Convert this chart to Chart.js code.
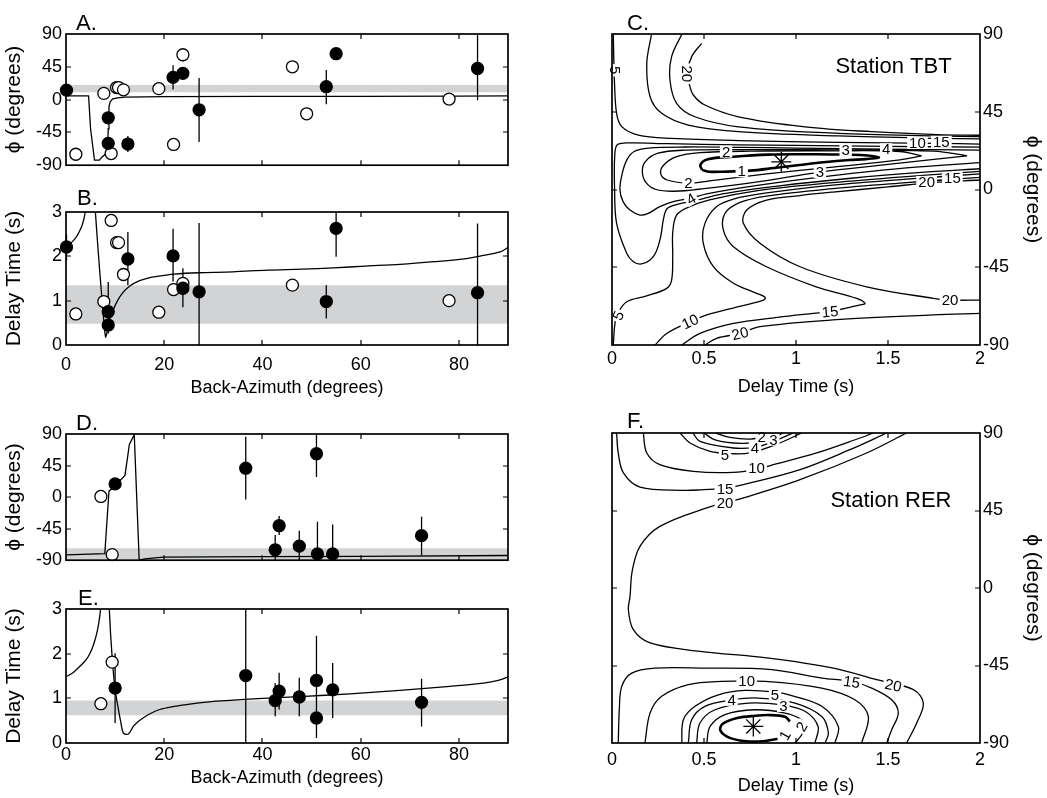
<!DOCTYPE html>
<html><head><meta charset="utf-8">
<script src="https://cdn.jsdelivr.net/npm/chart.js@4.4.1/dist/chart.umd.min.js"></script>
<style>
html,body{margin:0;padding:0;background:#fff;}
body{width:1047px;height:798px;position:relative;overflow:hidden;}
canvas{position:absolute;}
</style></head><body>
<canvas id="cA" width="520" height="180" style="left:0;top:0;width:520px;height:180px"></canvas>
<canvas id="cB" width="520" height="220" style="left:0;top:180px;width:520px;height:220px"></canvas>
<canvas id="cC" width="527" height="400" style="left:520px;top:0;width:527px;height:400px"></canvas>
<canvas id="cD" width="520" height="175" style="left:0;top:400px;width:520px;height:175px"></canvas>
<canvas id="cE" width="520" height="223" style="left:0;top:575px;width:520px;height:223px"></canvas>
<canvas id="cF" width="527" height="398" style="left:520px;top:400px;width:527px;height:398px"></canvas>
<script>
// ---------------- tick values ----------------
const azTicks = [0, 20, 40, 60, 80];
const phiTicks = [-90, -45, 0, 45, 90];
const delayTicks = [0, 1, 2, 3];
const dtTicks = [0, 0.5, 1, 1.5, 2];

// ---------------- Panel A (TBT, phi vs back-azimuth) ----------------
const aFilledAz = [0.1, 8.6, 8.6, 12.6, 21.8, 23.8, 27.1, 53.0, 55.0, 83.8];
const aFilledPhi = [13, -25, -60, -61, 30.5, 36, -14, 17.7, 63, 42.7];
const aFilledLo = [null, null, -68, -72, 14, 31, -58, -6.3, 58, -1];
const aFilledHi = [null, null, -52, -50, 47, 41, 29.6, 40.5, 68, 90];
const aOpenAz = [2.0, 7.7, 9.2, 10.3, 10.7, 11.7, 18.9, 21.9, 23.8, 46.1, 49.0, 78.0];
const aOpenPhi = [-75, 8.5, -74, 16.5, 16.5, 13.4, 15, -61.5, 61.5, 45, -19.5, 0.7];
const aBand = [10, 20];
const aCurveAz = [0, 4.6, 5.0, 5.8, 6.8, 7.3, 8.0, 8.45, 8.6, 8.75, 9.0, 9.5, 10.5, 12, 20, 40, 60, 80, 90];
const aCurvePhi = [5, 5, -40, -83, -83, -79, -75, -68, -40, -10, -3, 1, 2.5, 3.5, 4, 4.3, 4.5, 4.7, 5];

// ---------------- Panel B (TBT, delay vs back-azimuth) ----------------
const bFilledAz = [0.1, 8.6, 8.6, 12.6, 21.8, 23.8, 27.1, 53.0, 55.0, 83.8];
const bFilledDelay = [2.21, 0.75, 0.45, 1.94, 2.01, 1.28, 1.2, 0.98, 2.63, 1.18];
const bFilledLo = [1.9, 0.26, null, 1.35, 1.43, 0.85, 0, 0.6, 1.99, 0];
const bFilledHi = [2.5, 1.42, null, 2.55, 2.62, 1.73, 2.75, 1.35, 3.0, 2.74];
const bOpenAz = [2.0, 7.7, 9.2, 10.3, 10.7, 11.7, 18.9, 21.9, 23.8, 46.1, 78.0];
const bOpenDelay = [0.70, 0.98, 2.81, 2.31, 2.31, 1.59, 0.74, 1.25, 1.39, 1.35, 1.0];
const bBand = [0.48, 1.35];
const bCurve1Az = [0, 1, 2, 3, 3.6, 4.0];
const bCurve1Delay = [2.2, 2.3, 2.42, 2.62, 2.82, 3.05];
const bCurve2Az = [5.95, 6.5, 7.2, 7.9, 8.1, 8.4, 8.8, 9.6, 10.5, 11.5, 13, 15, 17.1, 20, 22, 27, 34, 41, 48, 54.5, 61, 68, 75, 81.6, 85, 88.4, 90];
const bCurve2Delay = [3.05, 2.2, 1.2, 0.3, 0.18, 0.32, 0.55, 0.79, 1.0, 1.17, 1.33, 1.45, 1.52, 1.57, 1.6, 1.63, 1.65, 1.69, 1.71, 1.74, 1.78, 1.82, 1.88, 1.95, 2.02, 2.1, 2.2];

// ---------------- Panel D (RER, phi vs back-azimuth) ----------------
const dFilledAz = [10.0, 36.6, 51.0, 43.4, 42.6, 47.5, 51.2, 54.3, 72.4];
const dFilledPhi = [18.8, 41.2, 61.8, -40.8, -75.2, -69.9, -81, -81, -55];
const dFilledLo = [null, -3.6, 28.7, -54, -90, -90, -90, -90, -83];
const dFilledHi = [null, 86, 90, -27, -54, -48, -35, -39, -28];
const dOpenAz = [7.1, 9.4];
const dOpenPhi = [0.9, -82];
const dBand = [-90, -73];
const dCurveAz = [0, 7.9, 8.75, 9.5, 10.5, 11.2, 12.0, 12.5, 12.9, 13.9, 14.9, 16, 19.8, 40, 60, 90];
const dCurvePhi = [-82.4, -80.6, 8.5, 13, 20, 25, 31, 55, 75, 89, -90, -88, -85.5, -85, -84.5, -83.3];

// ---------------- Panel E (RER, delay vs back-azimuth) ----------------
const eFilledAz = [10.0, 36.6, 42.6, 43.4, 47.5, 51.0, 51.0, 54.3, 72.4];
const eFilledDelay = [1.23, 1.51, 0.95, 1.16, 1.03, 1.40, 0.56, 1.19, 0.91];
const eFilledLo = [0.45, 0, 0.6, 0.75, 0.6, 0.8, 0.11, 0.56, 0.37];
const eFilledHi = [2.01, 3, 1.34, 1.57, 1.46, 2.4, 1.0, 1.79, 1.44];
const eOpenAz = [7.1, 9.4];
const eOpenDelay = [0.88, 1.81];
const eBand = [0.62, 0.95];
const eCurve1Az = [0, 1.5, 2.85, 4, 4.9, 5.6, 6.25, 6.7, 7.1];
const eCurve1Delay = [1.48, 1.58, 1.72, 1.85, 2.01, 2.2, 2.45, 2.7, 3.05];
const eCurve2Az = [8.8, 9.1, 9.6, 10.0, 10.5, 11.1, 11.7, 12.7, 13.7, 14.6, 15.7, 17.2, 19.1, 21.5, 24.6, 30, 38.2, 47.7, 57.8, 68, 78.2, 85, 88, 90];
const eCurve2Delay = [3.05, 2.4, 1.64, 1.2, 0.86, 0.5, 0.22, 0.2, 0.37, 0.47, 0.56, 0.66, 0.75, 0.81, 0.86, 0.93, 0.99, 1.04, 1.1, 1.18, 1.27, 1.34, 1.4, 1.48];

// ---------------- Panel C contours (Station TBT) [delay s, phi deg] ----------------
const tbtC1 = [[0.49,11.3],[0.48,14.2],[0.52,17.5],[0.66,19.0],[0.85,20.2],[1.02,20.4],[1.2,20.3],[1.35,20.0],[1.45,18.6],[1.38,17.6],[1.29,17.1],[1.15,15.8],[1.02,14.2],[0.88,12.4],[0.75,10.9],[0.6,10.3],[0.53,10.3],[0.49,11.3]];
const tbtC2 = [[1.683,19.4],[1.565,22.0],[1.203,22.4],[0.75,22.2],[0.478,21.3],[0.351,19.0],[0.28,14],[0.265,9],[0.3,5.5],[0.42,3.6],[0.53,5.0],[0.84,9.0],[1.2,13.0],[1.565,17.1],[1.683,19.4]];
const tbtC3 = [[1.93,19.5],[1.75,22.2],[1.27,22.9],[0.69,23.1],[0.4,22.8],[0.25,21],[0.18,16],[0.165,10],[0.185,4],[0.24,0],[0.34,-1],[0.5,0.5],[0.8,4.5],[1.13,10.1],[1.5,14.5],[1.8,18],[1.93,19.5]];
const tbtC4 = [[2.0,22.8],[1.49,23.3],[1.0,24.0],[0.69,24.4],[0.4,24.6],[0.2,24],[0.12,22],[0.08,17],[0.055,9],[0.043,0],[0.06,-7],[0.098,-11.9],[0.152,-14.8],[0.197,-13.8],[0.26,-9.9],[0.333,-7],[0.43,-5],[0.515,-2.5],[0.8,2.5],[1.2,8],[1.6,12.5],[2.0,15.5]];
const tbtC5a = [[2.0,24.5],[1.5,25],[1.0,25.5],[0.69,25.8],[0.3,26.5],[0.1,27],[0.03,26],[0.015,20],[0.014,0],[0.025,-19.6],[0.08,-36.9],[0.116,-41.8],[0.16,-43.1],[0.207,-40.8],[0.24,-36],[0.265,-27],[0.28,-17],[0.3,-11],[0.36,-8.5],[0.45,-6.5],[0.6,-2.5],[0.9,2],[1.3,6.5],[1.7,10],[2.0,12]];
const tbtC5b = [[0.007,-90],[0.016,-77.5],[0.03,-72],[0.08,-65],[0.188,-61.6],[0.297,-57.2],[0.324,-52.4],[0.33,-39],[0.33,-25],[0.35,-15],[0.41,-10.5],[0.53,-6],[0.8,-0.5],[1.2,4],[1.6,7.5],[2.0,10.5]];
const tbtC5top = [[0.007,90],[0.01,75],[0.013,63],[0.025,44],[0.053,36.4],[0.143,31.5],[0.324,29.6],[0.687,28.3],[1.23,27.3],[1.77,26.7],[2.0,26.3]];
const tbtC10top = [[0.215,90],[0.189,73],[0.207,53.7],[0.27,44.1],[0.415,37.3],[0.687,33.5],[1.23,31],[1.77,29.6],[2.0,29.3]];
const tbtC15top = [[0.38,90],[0.324,76.9],[0.315,63.4],[0.351,49.9],[0.451,42.1],[0.687,36.3],[1.23,32.5],[1.77,31],[2.0,30.6]];
const tbtC20top = [[0.487,84.6],[0.433,76.9],[0.41,68],[0.42,61],[0.442,54.7],[0.505,48.9],[0.687,42.1],[1.049,36.3],[1.41,33.5],[1.77,31.8],[2.0,31.4]];
const tbtC10U = [[0.234,-90],[0.297,-83.3],[0.424,-76.5],[0.515,-72.6],[0.7,-67.5],[0.823,-64],[0.832,-62.4],[0.786,-60.1],[0.66,-54.3],[0.551,-44.7],[0.496,-31.1],[0.505,-19.6],[0.569,-9.9],[0.66,-5.5],[0.84,-2],[1.2,2.5],[1.6,6],[2.0,9]];
const tbtC15U = [[0.379,-90],[0.478,-83.3],[0.66,-77.5],[0.9,-74],[1.094,-71.7],[1.185,-70.7],[1.348,-66.8],[1.375,-65.9],[1.33,-63],[1.11,-56.3],[0.84,-44.7],[0.66,-33.1],[0.605,-23.4],[0.614,-13.8],[0.696,-7.5],[0.84,-3.8],[1.2,0.5],[1.6,4],[1.8,5.5],[2.0,7]];
const tbtC20U = [[2.0,-64],[1.837,-64],[1.746,-63],[1.384,-56.3],[1.022,-44.7],[0.804,-31.1],[0.714,-19.6],[0.732,-11.9],[0.84,-6.1],[1.022,-3.5],[1.2,-1.5],[1.5,1.5],[1.74,4],[2.0,5.5]];
const tbtC20B = [[0.505,-90],[0.569,-86.1],[0.696,-83.3],[0.804,-79.4],[1.2,-75.5],[1.746,-72.6],[2.0,-71.7]];
const tbtBest = [[0.92, 16]];
const tbtLabelText = ['5','20','2','3','4','10','15','1','3','2','20','15','4','5','10','15','20','20'];
const tbtLabelDelay = [0.016, 0.41, 0.62, 1.27, 1.49, 1.66, 1.79, 0.705, 1.13, 0.415, 1.71, 1.85, 0.43, 0.033, 0.424, 1.185, 0.696, 1.837];
const tbtLabelPhi = [69, 67, 21.9, 22.8, 23.3, 26.9, 27.6, 10.6, 10.1, 3.6, 4.4, 6.6, -5.5, -73, -76.5, -70.7, -83.3, -64];
const tbtLabelRot = [90, 90, 0, 0, 0, 0, 0, 0, 0, 0, 0, 0, -30, -65, -25, -5, -15, 0];

// ---------------- Panel F contours (Station RER) ----------------
const rerC20 = [[1.601,90],[1.384,78.4],[1.022,62.9],[0.714,52.3],[0.515,46.5],[0.26,35.8],[0.152,24.2],[0.11,10],[0.098,-4.9],[0.089,-12.6],[0.116,-24.2],[0.207,-31.9],[0.478,-36.8],[0.841,-40.6],[1.203,-46.5],[1.438,-53.2],[1.638,-59],[1.692,-66.8],[1.656,-78.4],[1.601,-90]];
const rerC15top = [[0.025,90],[0.034,78.4],[0.062,66.8],[0.152,58.6],[0.388,56.7],[0.496,57.1],[0.614,57.8],[0.714,60],[1.022,68.7],[1.293,80.3],[1.493,90]];
const rerC10top = [[0.17,90],[0.189,78.4],[0.26,71.6],[0.442,67.7],[0.659,67.1],[0.786,69],[0.877,71.6],[1.112,78.4],[1.348,87.1],[1.42,90]];
const rerC5top = [[0.37,90],[0.424,84.2],[0.533,79.3],[0.65,78],[0.75,78.4],[0.913,84.2],[1.03,90]];
const rerC4top = [[0.44,90],[0.478,85.1],[0.659,81.3],[0.78,81.8],[0.877,85.1],[0.985,90]];
const rerC3top = [[0.5,90],[0.56,86],[0.7,84],[0.84,85.5],[0.93,90]];
const rerC2top = [[0.56,90],[0.64,87.5],[0.75,86.5],[0.84,88],[0.88,90]];
const rerC15bot = [[0.034,-90],[0.04,-70],[0.053,-57.1],[0.107,-49.4],[0.234,-46.5],[0.505,-46.5],[0.868,-47.4],[1.14,-52.3],[1.303,-54.2],[1.411,-58.1],[1.52,-64.9],[1.556,-72.6],[1.52,-82.3],[1.493,-90]];
const rerC10bot = [[0.179,-90],[0.207,-72.6],[0.27,-62.9],[0.415,-56.1],[0.596,-54.2],[0.832,-54.2],[1.14,-58.1],[1.32,-64.9],[1.393,-74.6],[1.357,-90]];
const rerC5bot = [[0.379,-90],[0.388,-76.5],[0.451,-68.7],[0.578,-62],[0.723,-59.5],[0.886,-60.5],[0.977,-62.5],[1.14,-68.7],[1.23,-80.4],[1.212,-90]];
const rerC4bot = [[0.415,-90],[0.433,-76.5],[0.505,-68.7],[0.65,-65],[0.795,-63.9],[0.995,-66.8],[1.14,-74.6],[1.176,-84.2],[1.158,-90]];
const rerC3bot = [[0.46,-90],[0.478,-78.4],[0.56,-70.7],[0.741,-66.8],[0.931,-68],[1.049,-71.6],[1.12,-80.4],[1.103,-90]];
const rerC2bot = [[0.515,-90],[0.533,-80.4],[0.614,-73.5],[0.777,-70.7],[0.94,-72.6],[1.031,-76.5],[1.045,-81],[1.031,-85.2],[0.995,-90]];
const rerC1 = [[0.967,-77.5],[0.94,-74.8],[0.86,-73.8],[0.777,-74.2],[0.68,-75.5],[0.6,-79],[0.59,-83],[0.64,-87],[0.73,-89],[0.82,-89],[0.9,-87.5]];
const rerBest = [[0.768, -80.4]];
const rerLabelText = ['2','3','4','5','10','15','20','10','15','20','5','4','3','2','1'];
const rerLabelDelay = [0.813, 0.877, 0.777, 0.614, 0.786, 0.614, 0.614, 0.732, 1.303, 1.529, 0.886, 0.65, 0.931, 1.031, 0.94];
const rerLabelPhi = [87.7, 86.1, 81.3, 77.4, 69.7, 57.5, 49.4, -54.2, -54.5, -56.5, -61.8, -64.9, -68.5, -80.4, -85.5];
const rerLabelRot = [0, 0, 0, 0, 0, 0, 0, 0, 8, 12, 0, 0, 0, -60, -60];

// ---------------- helpers ----------------
const FONT = "'Liberation Sans', Arial, Helvetica, sans-serif";
Chart.defaults.font.family = FONT;
Chart.defaults.color = '#000';

function pts(xs, ys) { return xs.map((x, i) => ({x: x, y: ys[i]})); }
function pairs(arr) { return arr.map(p => ({x: p[0], y: p[1]})); }
function errSegs(xs, lo, hi) {
  const d = [];
  xs.forEach((x, i) => { if (lo[i] == null) return; d.push({x: x, y: lo[i]}, {x: x, y: hi[i]}, {x: x, y: null}); });
  return d;
}
function lineDS(data, extra) {
  return Object.assign({type: 'line', data: data, borderColor: '#000', borderWidth: 1.3, pointRadius: 0,
    fill: false, tension: 0, spanGaps: false, order: 2}, extra || {});
}
function bandDS(lo, hi) {
  return [
    {type: 'line', data: [{x: 0, y: lo}, {x: 90, y: lo}], borderColor: 'rgba(0,0,0,0)', borderWidth: 1, pointRadius: 0, fill: false, order: 10},
    {type: 'line', data: [{x: 0, y: hi}, {x: 90, y: hi}], borderColor: 'rgba(0,0,0,0)', borderWidth: 1, pointRadius: 0, fill: '-1', backgroundColor: '#d2d3d5', order: 10}
  ];
}
function markerDS(xs, ys, filled) {
  return {type: 'line', data: pts(xs, ys), showLine: false, pointRadius: 6, pointStyle: 'circle',
    pointBackgroundColor: filled ? '#000' : '#fff', pointBorderColor: '#000', pointBorderWidth: 1.3,
    clip: false, order: filled ? 0 : 1};
}
function contourDS(arr, thick) {
  return lineDS(pairs(arr), {tension: 0.35, borderWidth: thick ? 2.6 : 1.3});
}
function starDS(arr) {
  return {type: 'line', data: pairs(arr), showLine: false, pointStyle: 'star', pointRadius: 10,
    pointBorderColor: '#000', pointBorderWidth: 1.3, order: 0, clip: false};
}

const decor = {
  id: 'decor',
  afterDatasetsDraw(chart, args, o) {
    if (!o || !o.labels) return;
    const {ctx, scales: {x, y}} = chart;
    ctx.save();
    ctx.font = '15px ' + FONT;
    ctx.textAlign = 'center';
    ctx.textBaseline = 'middle';
    o.labels.text.forEach((t, i) => {
      const px = x.getPixelForValue(o.labels.dx[i]);
      const py = y.getPixelForValue(o.labels.dy[i]);
      const w = ctx.measureText(t).width;
      ctx.save();
      ctx.translate(px, py);
      ctx.rotate(o.labels.rot[i] * Math.PI / 180);
      ctx.fillStyle = '#fff';
      ctx.fillRect(-w / 2 - 2, -6, w + 4, 12);
      ctx.fillStyle = '#000';
      ctx.fillText(t, 0, 1);
      ctx.restore();
    });
    ctx.restore();
  },
  afterDraw(chart, args, o) {
    if (!o) return;
    const {ctx, chartArea: a, scales: {x, y}} = chart;
    ctx.save();
    ctx.strokeStyle = '#000';
    ctx.lineWidth = 1.2;
    ctx.beginPath();
    o.xTicks.forEach(v => {
      const px = Math.round(x.getPixelForValue(v));
      if (px <= a.left + 1 || px >= a.right - 1) return;
      ctx.moveTo(px, a.bottom); ctx.lineTo(px, a.bottom - 5);
      ctx.moveTo(px, a.top); ctx.lineTo(px, a.top + 5);
    });
    o.yTicks.forEach(v => {
      const py = Math.round(y.getPixelForValue(v));
      if (py <= a.top + 1 || py >= a.bottom - 1) return;
      ctx.moveTo(a.left, py); ctx.lineTo(a.left + 5, py);
      ctx.moveTo(a.right, py); ctx.lineTo(a.right - 5, py);
    });
    ctx.stroke();
    ctx.lineWidth = 1.7;
    ctx.strokeRect(a.left, a.top, a.right - a.left, a.bottom - a.top);
    ctx.fillStyle = '#000';
    ctx.textBaseline = 'alphabetic';
    ctx.textAlign = 'left';
    ctx.font = '22px ' + FONT;
    ctx.fillText(o.letter, o.letterX, o.letterY);
    if (o.station) {
      ctx.font = '22px ' + FONT;
      ctx.textAlign = 'center';
      ctx.textBaseline = 'middle';
      ctx.fillText(o.station.text, x.getPixelForValue(o.station.dx), y.getPixelForValue(o.station.dy));
    }
    ctx.restore();
  }
};
Chart.register(decor);

function sideChart(id, o) {
  return new Chart(document.getElementById(id), {
    type: 'line',
    data: {datasets: o.datasets},
    options: {
      responsive: false, animation: false, devicePixelRatio: 1, events: [],
      layout: {padding: o.padding},
      plugins: {legend: {display: false}, tooltip: {enabled: false},
        decor: {xTicks: azTicks, yTicks: o.yTicks, letter: o.letter, letterX: o.letterX, letterY: o.letterY}},
      scales: {
        x: {type: 'linear', min: 0, max: 90, display: o.showX,
          afterBuildTicks: s => { s.ticks = azTicks.map(v => ({value: v})); },
          ticks: {padding: o.xTickPad, font: {size: 18}, color: '#000', maxRotation: 0, autoSkip: false, callback: v => String(v)},
          grid: {display: false, drawTicks: false}, border: {display: false},
          title: {display: true, text: 'Back-Azimuth (degrees)', font: {size: 18}, color: '#000', padding: {top: 0, bottom: o.xTitlePad}},
          afterFit: s => { s.height = o.xHeight; }},
        y: {type: 'linear', position: 'left', min: o.yMin, max: o.yMax,
          afterBuildTicks: s => { s.ticks = o.yTicks.map(v => ({value: v})); },
          ticks: {padding: 4, font: {size: 18}, color: '#000', callback: v => String(v)},
          grid: {display: false, drawTicks: false}, border: {display: false},
          title: {display: true, text: o.yTitle, font: {size: 21}, color: '#000', padding: {top: 2, bottom: 0}},
          afterFit: s => { s.width = 66; }}
      }
    }
  });
}

function contourChart(id, o) {
  return new Chart(document.getElementById(id), {
    type: 'line',
    data: {datasets: o.datasets},
    options: {
      responsive: false, animation: false, devicePixelRatio: 1, events: [],
      layout: {padding: o.padding},
      plugins: {legend: {display: false}, tooltip: {enabled: false},
        decor: {xTicks: dtTicks, yTicks: phiTicks, letter: o.letter, letterX: 107, letterY: o.letterY,
          labels: o.labels, station: o.station}},
      scales: {
        x: {type: 'linear', min: 0, max: 2,
          afterBuildTicks: s => { s.ticks = dtTicks.map(v => ({value: v})); },
          ticks: {padding: o.xTickPad, font: {size: 18}, color: '#000', maxRotation: 0, autoSkip: false, callback: v => String(v)},
          grid: {display: false, drawTicks: false}, border: {display: false},
          title: {display: true, text: 'Delay Time (s)', font: {size: 18}, color: '#000', padding: {top: 0, bottom: o.xTitlePad}},
          afterFit: s => { s.height = 55; }},
        y: {type: 'linear', position: 'right', min: -90, max: 90,
          afterBuildTicks: s => { s.ticks = phiTicks.map(v => ({value: v})); },
          ticks: {padding: 3, font: {size: 18}, color: '#000', callback: v => String(v)},
          grid: {display: false, drawTicks: false}, border: {display: false},
          title: {display: true, text: 'ϕ (degrees)', font: {size: 21}, color: '#000', padding: {top: 2, bottom: 0}},
          afterFit: s => { s.width = 67; }}
      }
    }
  });
}

// ---------------- build panels ----------------
sideChart('cA', {
  padding: {top: 34, right: 12, bottom: 9, left: 0}, showX: false, xHeight: 0, xTickPad: 0, xTitlePad: 0,
  yMin: -90, yMax: 90, yTicks: phiTicks, yTitle: 'ϕ (degrees)', letter: 'A.', letterX: 76, letterY: 30,
  datasets: [].concat(bandDS(aBand[0], aBand[1]), [
    lineDS(errSegs(aFilledAz, aFilledLo, aFilledHi), {order: 3}),
    lineDS(pts(aCurveAz, aCurvePhi)),
    markerDS(aOpenAz, aOpenPhi, false),
    markerDS(aFilledAz, aFilledPhi, true)
  ])
});

sideChart('cB', {
  padding: {top: 32, right: 12, bottom: 0, left: 0}, showX: true, xHeight: 55, xTickPad: 9, xTitlePad: 1,
  yMin: 0, yMax: 3, yTicks: delayTicks, yTitle: 'Delay Time (s)', letter: 'B.', letterX: 77, letterY: 25,
  datasets: [].concat(bandDS(bBand[0], bBand[1]), [
    lineDS(errSegs(bFilledAz, bFilledLo, bFilledHi), {order: 3}),
    lineDS(pts(bCurve1Az, bCurve1Delay), {tension: 0.3}),
    lineDS(pts(bCurve2Az, bCurve2Delay), {tension: 0.3}),
    markerDS(bOpenAz, bOpenDelay, false),
    markerDS(bFilledAz, bFilledDelay, true)
  ])
});

sideChart('cD', {
  padding: {top: 34, right: 12, bottom: 7, left: 0}, showX: false, xHeight: 0, xTickPad: 0, xTitlePad: 0,
  yMin: -90, yMax: 90, yTicks: phiTicks, yTitle: 'ϕ (degrees)', letter: 'D.', letterX: 76, letterY: 30,
  datasets: [].concat(bandDS(dBand[0], dBand[1]), [
    lineDS(errSegs(dFilledAz, dFilledLo, dFilledHi), {order: 3}),
    lineDS(pts(dCurveAz, dCurvePhi)),
    markerDS(dOpenAz, dOpenPhi, false),
    markerDS(dFilledAz, dFilledPhi, true)
  ])
});

sideChart('cE', {
  padding: {top: 34, right: 12, bottom: 0, left: 0}, showX: true, xHeight: 55, xTickPad: 1, xTitlePad: 9,
  yMin: 0, yMax: 3, yTicks: delayTicks, yTitle: 'Delay Time (s)', letter: 'E.', letterX: 78, letterY: 30,
  datasets: [].concat(bandDS(eBand[0], eBand[1]), [
    lineDS(errSegs(eFilledAz, eFilledLo, eFilledHi), {order: 3}),
    lineDS(pts(eCurve1Az, eCurve1Delay), {tension: 0.3}),
    lineDS(pts(eCurve2Az, eCurve2Delay), {tension: 0.3}),
    markerDS(eOpenAz, eOpenDelay, false),
    markerDS(eFilledAz, eFilledDelay, true)
  ])
});

contourChart('cC', {
  padding: {top: 34, right: 0, bottom: 0, left: 92}, xTickPad: 3, xTitlePad: 2, letter: 'C.', letterY: 30,
  station: {text: 'Station TBT', dx: 1.53, dy: 70.9},
  labels: {text: tbtLabelText, dx: tbtLabelDelay, dy: tbtLabelPhi, rot: tbtLabelRot},
  datasets: [
    contourDS(tbtC5top), contourDS(tbtC10top), contourDS(tbtC15top), contourDS(tbtC20top),
    contourDS(tbtC5a), contourDS(tbtC5b), contourDS(tbtC4), contourDS(tbtC3), contourDS(tbtC2),
    contourDS(tbtC10U), contourDS(tbtC15U), contourDS(tbtC20U), contourDS(tbtC20B),
    contourDS(tbtC1, true), starDS(tbtBest)
  ]
});

contourChart('cF', {
  padding: {top: 33, right: 0, bottom: 0, left: 92}, xTickPad: 6, xTitlePad: 1, letter: 'F.', letterY: 28,
  station: {text: 'Station RER', dx: 1.516, dy: 50.7},
  labels: {text: rerLabelText, dx: rerLabelDelay, dy: rerLabelPhi, rot: rerLabelRot},
  datasets: [
    contourDS(rerC20), contourDS(rerC15top), contourDS(rerC10top), contourDS(rerC5top), contourDS(rerC4top),
    contourDS(rerC3top), contourDS(rerC2top), contourDS(rerC15bot), contourDS(rerC10bot), contourDS(rerC5bot),
    contourDS(rerC4bot), contourDS(rerC3bot), contourDS(rerC2bot), contourDS(rerC1, true), starDS(rerBest)
  ]
});
</script>
</body></html>
